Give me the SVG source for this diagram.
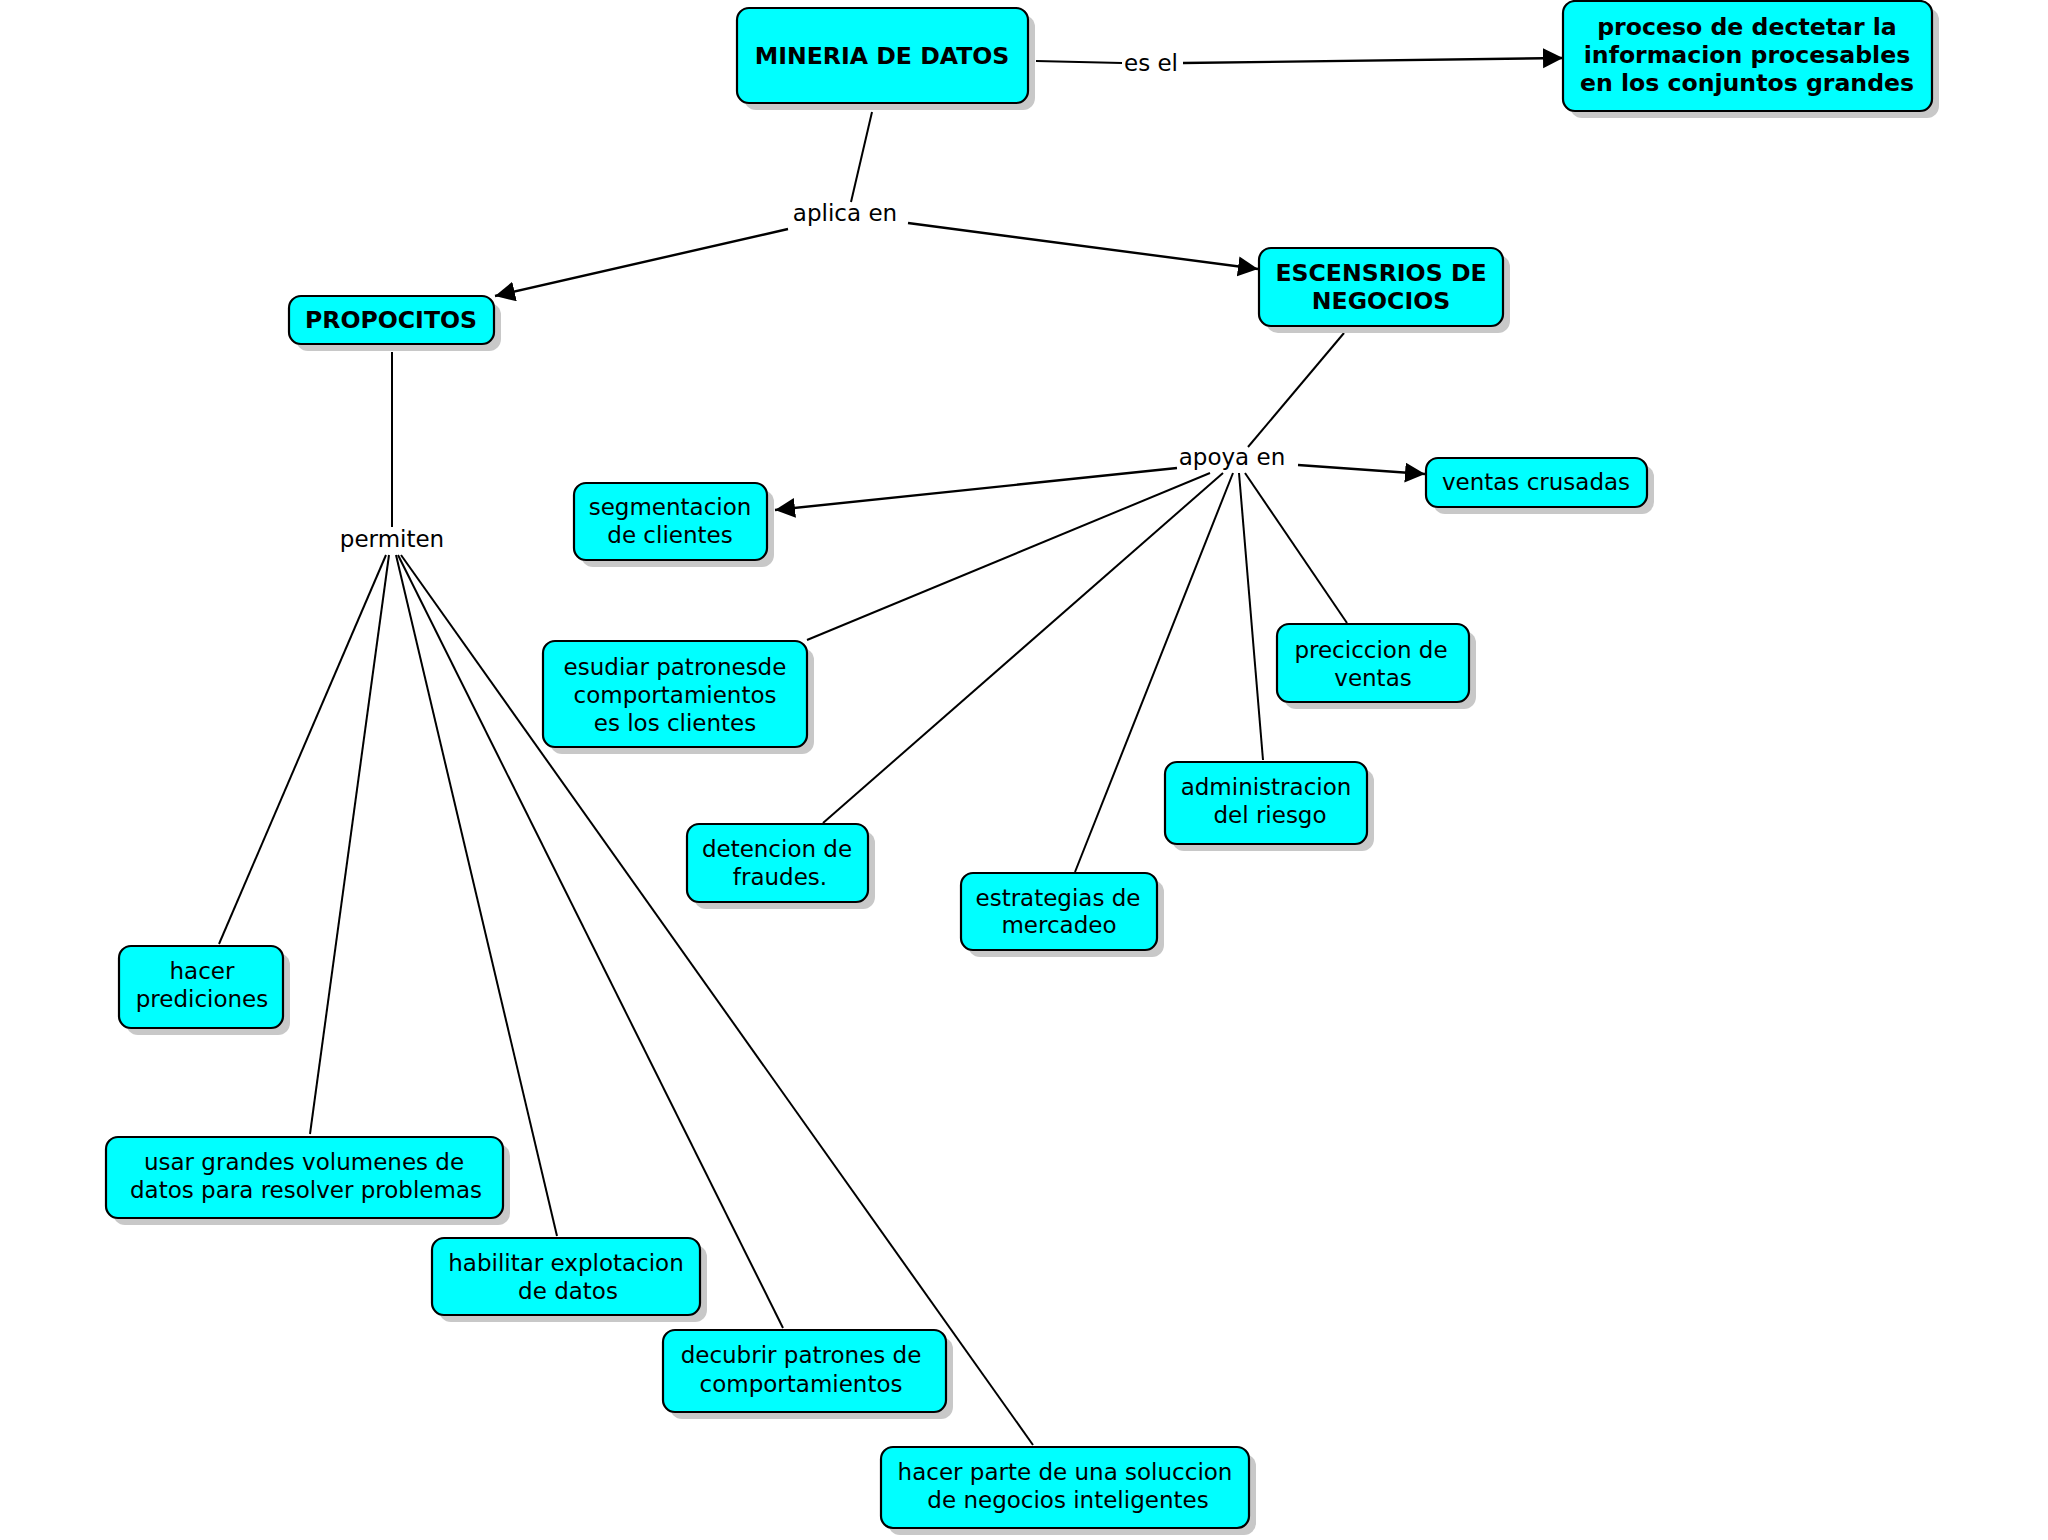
<svg xmlns="http://www.w3.org/2000/svg" width="2048" height="1540" viewBox="0 0 2048 1540">
<style>
.sh{fill:#c8c8c8;stroke:none}
.bx{fill:#00ffff;stroke:#000;stroke-width:2.2}
.t{font-family:"DejaVu Sans",Verdana,sans-serif;font-size:23px;fill:#000;text-anchor:middle}
.b{font-weight:bold;font-size:23.6px}
.ln{stroke:#000;stroke-width:2;fill:none}
.ar{stroke:#000;stroke-width:2.4;fill:none;marker-end:url(#ah)}
</style>
<defs>
<marker id="ah" markerUnits="userSpaceOnUse" markerWidth="22" markerHeight="22" refX="20" refY="10" orient="auto" viewBox="0 0 22 22">
<path d="M0,0 L20,10 L0,20 z" fill="#000"/>
</marker>
</defs>
<rect width="2048" height="1540" fill="#fff"/>
<g id="connectors">
<line class="ln" x1="1036" y1="61" x2="1122" y2="63"/>
<line class="ar" x1="1183" y1="63" x2="1563" y2="58"/>
<line class="ln" x1="872" y1="112" x2="851" y2="202"/>
<line class="ar" x1="788" y1="229" x2="495" y2="296"/>
<line class="ar" x1="908" y1="223" x2="1258" y2="269"/>
<line class="ln" x1="1344" y1="333" x2="1248" y2="447"/>
<line class="ar" x1="1177" y1="468" x2="775" y2="510"/>
<line class="ar" x1="1298" y1="465" x2="1425" y2="474"/>
<line class="ln" x1="1210" y1="473" x2="807" y2="640"/>
<line class="ln" x1="1223" y1="473" x2="823" y2="823"/>
<line class="ln" x1="1233" y1="473" x2="1075" y2="872"/>
<line class="ln" x1="1239" y1="473" x2="1263" y2="760"/>
<line class="ln" x1="1245" y1="473" x2="1347" y2="623"/>
<line class="ln" x1="392" y1="352" x2="392" y2="527"/>
<line class="ln" x1="386" y1="555" x2="219" y2="944"/>
<line class="ln" x1="389" y1="555" x2="310" y2="1134"/>
<line class="ln" x1="396" y1="555" x2="557" y2="1236"/>
<line class="ln" x1="398" y1="555" x2="783" y2="1328"/>
<line class="ln" x1="401" y1="555" x2="1033" y2="1445"/>
</g>
<g id="labels">
<text class="t" x="1151" y="71">es el</text>
<text class="t" x="845" y="221">aplica en</text>
<text class="t" x="1232" y="465">apoya en</text>
<text class="t" x="392" y="547">permiten</text>
</g>
<g id="n-mineria">
<rect class="sh" x="744" y="15" width="291" height="95" rx="12"/>
<rect class="bx" x="737" y="8" width="291" height="95" rx="12"/>
<text class="t b" x="882" y="64">MINERIA DE DATOS</text>
</g>
<g id="n-proceso">
<rect class="sh" x="1570" y="8" width="369" height="110" rx="12"/>
<rect class="bx" x="1563" y="1" width="369" height="110" rx="12"/>
<text class="t b" x="1747" y="35">proceso de dectetar la</text>
<text class="t b" x="1747" y="63">informacion procesables</text>
<text class="t b" x="1747" y="91">en los conjuntos grandes</text>
</g>
<g id="n-propocitos">
<rect class="sh" x="296" y="303" width="205" height="48" rx="12"/>
<rect class="bx" x="289" y="296" width="205" height="48" rx="12"/>
<text class="t b" x="391" y="328">PROPOCITOS</text>
</g>
<g id="n-escensrios">
<rect class="sh" x="1266" y="255" width="244" height="78" rx="12"/>
<rect class="bx" x="1259" y="248" width="244" height="78" rx="12"/>
<text class="t b" x="1381" y="281">ESCENSRIOS DE</text>
<text class="t b" x="1381" y="309">NEGOCIOS</text>
</g>
<g id="n-segmentacion">
<rect class="sh" x="581" y="490" width="193" height="77" rx="12"/>
<rect class="bx" x="574" y="483" width="193" height="77" rx="12"/>
<text class="t" x="670" y="515">segmentacion</text>
<text class="t" x="670" y="543">de clientes</text>
</g>
<g id="n-ventas">
<rect class="sh" x="1433" y="465" width="221" height="49" rx="12"/>
<rect class="bx" x="1426" y="458" width="221" height="49" rx="12"/>
<text class="t" x="1536" y="490">ventas crusadas</text>
</g>
<g id="n-esudiar">
<rect class="sh" x="550" y="648" width="264" height="106" rx="12"/>
<rect class="bx" x="543" y="641" width="264" height="106" rx="12"/>
<text class="t" x="675" y="675">esudiar patronesde</text>
<text class="t" x="675" y="703">comportamientos</text>
<text class="t" x="675" y="731">es los clientes</text>
</g>
<g id="n-preciccion">
<rect class="sh" x="1284" y="631" width="192" height="78" rx="12"/>
<rect class="bx" x="1277" y="624" width="192" height="78" rx="12"/>
<text class="t" x="1371" y="658">preciccion de</text>
<text class="t" x="1373" y="686">ventas</text>
</g>
<g id="n-administracion">
<rect class="sh" x="1172" y="769" width="202" height="82" rx="12"/>
<rect class="bx" x="1165" y="762" width="202" height="82" rx="12"/>
<text class="t" x="1266" y="795">administracion</text>
<text class="t" x="1270" y="823">del riesgo</text>
</g>
<g id="n-detencion">
<rect class="sh" x="694" y="831" width="181" height="78" rx="12"/>
<rect class="bx" x="687" y="824" width="181" height="78" rx="12"/>
<text class="t" x="777" y="857">detencion de</text>
<text class="t" x="780" y="885">fraudes.</text>
</g>
<g id="n-estrategias">
<rect class="sh" x="968" y="880" width="196" height="77" rx="12"/>
<rect class="bx" x="961" y="873" width="196" height="77" rx="12"/>
<text class="t" x="1058" y="906">estrategias de</text>
<text class="t" x="1059" y="933">mercadeo</text>
</g>
<g id="n-hacer-prediciones">
<rect class="sh" x="126" y="953" width="164" height="82" rx="12"/>
<rect class="bx" x="119" y="946" width="164" height="82" rx="12"/>
<text class="t" x="202" y="979">hacer</text>
<text class="t" x="202" y="1007">prediciones</text>
</g>
<g id="n-usar">
<rect class="sh" x="113" y="1144" width="397" height="81" rx="12"/>
<rect class="bx" x="106" y="1137" width="397" height="81" rx="12"/>
<text class="t" x="304" y="1170">usar grandes volumenes de</text>
<text class="t" x="306" y="1198">datos para resolver problemas</text>
</g>
<g id="n-habilitar">
<rect class="sh" x="439" y="1245" width="268" height="77" rx="12"/>
<rect class="bx" x="432" y="1238" width="268" height="77" rx="12"/>
<text class="t" x="566" y="1271">habilitar explotacion</text>
<text class="t" x="568" y="1299">de datos</text>
</g>
<g id="n-decubrir">
<rect class="sh" x="670" y="1337" width="283" height="82" rx="12"/>
<rect class="bx" x="663" y="1330" width="283" height="82" rx="12"/>
<text class="t" x="801" y="1363">decubrir patrones de</text>
<text class="t" x="801" y="1392">comportamientos</text>
</g>
<g id="n-hacer-parte">
<rect class="sh" x="888" y="1454" width="368" height="81" rx="12"/>
<rect class="bx" x="881" y="1447" width="368" height="81" rx="12"/>
<text class="t" x="1065" y="1480">hacer parte de una soluccion</text>
<text class="t" x="1068" y="1508">de negocios inteligentes</text>
</g>
</svg>
